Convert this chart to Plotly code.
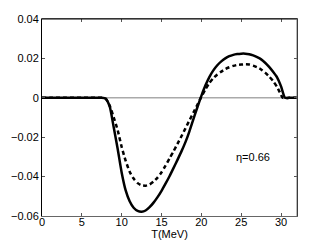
import plotly.graph_objects as go

T = [0, 1, 2, 3, 4, 5, 6, 7, 7.5, 8.0, 8.5, 9.0, 9.5, 10.0, 10.5, 11.0, 11.5, 12.0, 12.5, 13.0,
     13.5, 14.0, 14.5, 15.0, 15.5, 16.0, 16.5, 17.0, 17.5, 18.0, 18.5, 19.0, 19.5, 20.0,
     20.5, 21.0, 21.5, 22.0, 22.5, 23.0, 23.5, 24.0, 24.5, 25.0, 25.5, 26.0, 26.5, 27.0,
     27.5, 28.0, 28.5, 29.0, 29.5, 30.0]

solid_vals = [0, 0, 0, 0, 0, 0, 0, 0, 0, -0.0005, -0.0045, -0.015, -0.026, -0.038, -0.047,
              -0.0525, -0.0558, -0.0574, -0.0578, -0.0572, -0.0555, -0.0532, -0.0504, -0.0472,
              -0.0436, -0.0398, -0.0357, -0.0315, -0.0272, -0.0225, -0.0170, -0.0108, -0.0048,
              0.0010, 0.0062, 0.0105, 0.0139, 0.0165, 0.0185, 0.0200, 0.0211, 0.0218, 0.0222,
              0.0224, 0.0224, 0.0221, 0.0215, 0.0206, 0.0195, 0.0178, 0.0157, 0.0132, 0.0104,
              0.0058]
solid_tail_T = [30.5, 31, 32]
solid_tail = [0, 0, 0]

dashed_vals = [0, 0, 0, 0, 0, 0, 0, 0, 0, -0.0005, -0.004, -0.010, -0.0165, -0.025, -0.032,
               -0.0375, -0.041, -0.0433, -0.0444, -0.0446, -0.0440, -0.0425, -0.0405, -0.0378,
               -0.0344, -0.0308, -0.0272, -0.0234, -0.0195, -0.0155, -0.0115, -0.0075, -0.0035,
               0.0005, 0.0042, 0.0075, 0.0100, 0.0118, 0.0133, 0.0146, 0.0155, 0.0162, 0.0167,
               0.0169, 0.0170, 0.0169, 0.0163, 0.0155, 0.0144, 0.0128, 0.0108, 0.0085, 0.0055,
               0.0015]
dashed_tail_T = [30.2, 31, 32]
dashed_tail = [0, 0, 0]

x_ticks = [0, 5, 10, 15, 20, 25, 30]
y_ticks = [-0.06, -0.04, -0.02, 0, 0.02, 0.04]
y_tick_labels = ["\u22120.06", "\u22120.04", "\u22120.02", "0", "0.02", "0.04"]
label_text = "\u03b7=0.66"
label_pos = (26.5, -0.030)

fig = go.Figure()
fig.add_trace(go.Scatter(x=[0, 32], y=[0, 0], mode="lines",
                         line=dict(color="#aaaaaa", width=1.5), hoverinfo="skip"))
fig.add_trace(go.Scatter(x=T + solid_tail_T, y=solid_vals + solid_tail, mode="lines",
                         line=dict(color="black", width=2.5, shape="spline", smoothing=0.6)))
fig.add_trace(go.Scatter(x=T + dashed_tail_T, y=dashed_vals + dashed_tail, mode="lines",
                         line=dict(color="black", width=2.5, dash="4px,3px",
                                   shape="spline", smoothing=0.6)))

fig.add_annotation(x=label_pos[0], y=label_pos[1], text=label_text, showarrow=False,
                   font=dict(size=11, color="black", family="Liberation Sans"))

# top border black, right border gray
fig.add_shape(type="line", xref="paper", yref="paper", x0=0, x1=1, y0=1, y1=1,
              line=dict(color="black", width=1))
fig.add_shape(type="line", xref="paper", yref="paper", x0=1, x1=1, y0=0, y1=1,
              line=dict(color="#777777", width=1))

fig.update_layout(
    width=327, height=246,
    margin=dict(l=42, r=30, t=19, b=30),
    paper_bgcolor="white", plot_bgcolor="white",
    showlegend=False,
    font=dict(family="Liberation Sans", size=11, color="black"),
    xaxis=dict(range=[0, 32], tickvals=x_ticks, ticks="inside", ticklen=3,
               tickcolor="#555", showline=True, linecolor="#666666", linewidth=1,
               mirror="ticks", showgrid=False, zeroline=False, automargin=False,
               ticklabelstandoff=-4,
               title=dict(text="T(MeV)", standoff=0, font=dict(size=11)),
               tickfont=dict(size=11)),
    yaxis=dict(range=[-0.06, 0.04], tickvals=y_ticks, ticktext=y_tick_labels,
               ticks="inside", ticklen=3, tickcolor="#555", showline=True,
               linecolor="black", linewidth=1, mirror="ticks", showgrid=False,
               zeroline=False, automargin=False, tickfont=dict(size=11)),
)

fig.write_html("out.html", config={"displayModeBar": False},
               post_script="document.body.style.margin='0';")
